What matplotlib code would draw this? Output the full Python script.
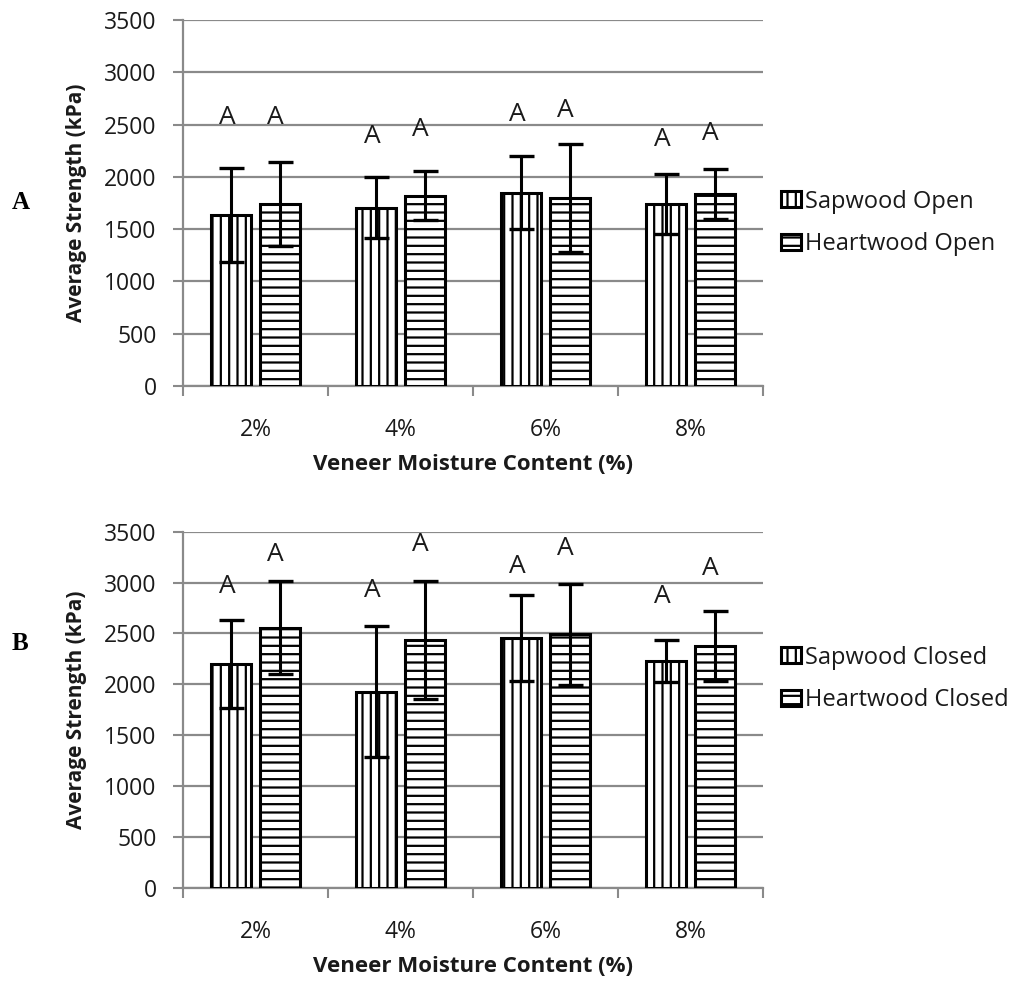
import matplotlib
matplotlib.use("Agg")
import matplotlib.pyplot as plt
import numpy as np

categories = ["2%", "4%", "6%", "8%"]

# Panel A (open)
sap_open = [1635, 1705, 1849, 1740]
sap_open_err = [452, 290, 347, 287]
heart_open = [1740, 1820, 1795, 1833]
heart_open_err = [400, 234, 516, 239]
sap_open_letters = ["A", "A", "A", "A"]
heart_open_letters = ["A", "A", "A", "A"]
sap_open_letter_y = [2506, 2321, 2537, 2298]
heart_open_letter_y = [2503, 2391, 2575, 2352]

# Panel B (closed)
sap_closed = [2201, 1929, 2459, 2230]
sap_closed_err = [430, 645, 422, 211]
heart_closed = [2557, 2437, 2492, 2378]
heart_closed_err = [458, 580, 495, 347]
sap_closed_letters = ["A", "A", "A", "A"]
heart_closed_letters = ["A", "A", "A", "A"]
sap_closed_letter_y = [2901, 2862, 3091, 2797]
heart_closed_letter_y = [3212, 3313, 3271, 3075]

yticks = [0, 500, 1000, 1500, 2000, 2500, 3000, 3500]

plt.rcParams['font.family'] = ['Open Sans', 'DejaVu Sans']
plt.rcParams['hatch.linewidth'] = 1.6

W, H = 1018, 986
fig = plt.figure(figsize=(W / 100, H / 100), dpi=100)

grid_col = "#8a8a8a"
txt_col = "#1a1a1a"

def panel(ax_rect, sap, sap_err, heart, heart_err, sap_lab, heart_lab,
          sap_ly, heart_ly, legend_names, legend_y, panel_letter, panel_y):
    ax = fig.add_axes(ax_rect)
    x = np.arange(len(categories))
    bw = 0.276
    off = 0.166
    b1 = ax.bar(x - off, sap, bw, color="white", edgecolor="black", hatch="||",
                linewidth=2.2, zorder=3, label=legend_names[0])
    b2 = ax.bar(x + off, heart, bw, color="white", edgecolor="black", hatch="--",
                linewidth=2.2, zorder=3, label=legend_names[1])
    ax.errorbar(x - off, sap, yerr=sap_err, fmt="none", ecolor="black",
                elinewidth=2.2, capsize=9, capthick=2.4, zorder=4)
    ax.errorbar(x + off, heart, yerr=heart_err, fmt="none", ecolor="black",
                elinewidth=2.2, capsize=9, capthick=2.4, zorder=4)
    for xi, lab, yy in zip(x - off, sap_lab, sap_ly):
        ax.text(xi - 0.03, yy, lab, ha="center", va="baseline", fontsize=19,
                color=txt_col, zorder=5)
    for xi, lab, yy in zip(x + off, heart_lab, heart_ly):
        ax.text(xi - 0.03, yy, lab, ha="center", va="baseline", fontsize=19,
                color=txt_col, zorder=5)

    ax.set_xlim(-0.5, len(categories) - 0.5)
    ax.set_ylim(0, 3500)
    ax.set_yticks(yticks)
    ax.set_yticklabels([str(t) for t in yticks], fontsize=16.5, color=txt_col)
    ax.yaxis.grid(True, color=grid_col, linewidth=1.6, zorder=0)
    ax.set_axisbelow(True)
    ax.set_xticks(x)
    ax.set_xticklabels(categories, fontsize=16.5, color=txt_col)
    ax.set_xticks(np.arange(-0.5, len(categories)), minor=True)
    ax.tick_params(axis="x", which="major", length=0, pad=23)
    ax.tick_params(axis="x", which="minor", length=7, width=1.5, color=grid_col)
    ax.tick_params(axis="y", length=7, width=1.5, color=grid_col, pad=12)
    for s in ["top", "right"]:
        ax.spines[s].set_visible(False)
    for s in ["left", "bottom"]:
        ax.spines[s].set_color(grid_col)
        ax.spines[s].set_linewidth(1.6)
    ax.set_ylabel("Average Strength (kPa)", fontsize=15, fontweight="bold",
                  labelpad=12, color=txt_col)
    ax.set_xlabel("Veneer Moisture Content (%)", fontsize=16, fontweight="bold",
                  labelpad=9, color=txt_col)

    fig.legend(handles=[b1, b2], loc="center left",
               bbox_to_anchor=(781 / W, 1 - legend_y / H), frameon=False,
               fontsize=17, handlelength=0.85, handleheight=0.65,
               handletextpad=0.15, labelspacing=0.8, borderaxespad=0,
               borderpad=0, labelcolor=txt_col)
    fig.text(12 / W, 1 - panel_y / H, panel_letter, fontsize=18, fontweight="bold",
             family="Liberation Serif", ha="left", va="center")
    return ax

panel([183 / W, 1 - 386 / H, 580 / W, 366 / H], sap_open, sap_open_err,
      heart_open, heart_open_err, sap_open_letters, heart_open_letters,
      sap_open_letter_y, heart_open_letter_y,
      ["Sapwood Open", "Heartwood Open"], 223, "A", 203)

panel([183 / W, 1 - 888 / H, 580 / W, 356.3 / H], sap_closed, sap_closed_err,
      heart_closed, heart_closed_err, sap_closed_letters, heart_closed_letters,
      sap_closed_letter_y, heart_closed_letter_y,
      ["Sapwood Closed", "Heartwood Closed"], 679, "B", 643)

fig.savefig("out.png", dpi=100)
